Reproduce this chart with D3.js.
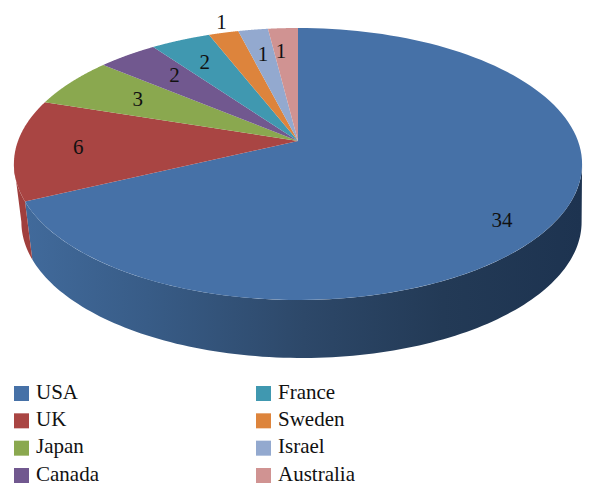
<!DOCTYPE html>
<html>
<head>
<meta charset="utf-8">
<script src="https://cdn.jsdelivr.net/npm/d3@7"></script>
<style>
html,body{margin:0;padding:0;background:#fff}
svg{display:block}
text{font-family:"Liberation Serif",serif;fill:#111}
</style>
</head>
<body>
<svg id="chart" width="595" height="497"></svg>
<script>
const countries = ["USA","UK","Japan","Canada","France","Sweden","Israel","Australia"];
const counts = [34,6,3,2,2,1,1,1];
const topColors = ["#4671a7","#a94543","#8aa84f","#71588f","#4098b0","#dd843c","#93a9cf","#d09392"];
const sideColors = ["#3f6796","#a03f3d"];
const labelRadius = [0.80,0.78,0.69,0.70,0.77,1.03,0.75,0.77];
const labelNudge = [[0,18],[0,-1],[0,0],[0,-4],[0,1],[0,-8],[0,0],[-5,0]];

const W = 595, H = 497;
const svg = d3.select("#chart").attr("viewBox", [0,0,W,H]);

// Perspective projection of the unit disc: the apex is the disc's centre.
const apex = {x:298, y:141}, persp = 0.169, scaleX = 280, scaleY = 132.1;
const project = (theta, f=1, rim=false) => {
  const u = f*Math.sin(theta), v = -f*Math.cos(theta), d = 1 - persp*v;
  if (!rim) return [apex.x + scaleX*u/d, apex.y + scaleY*v/d];
  return [apex.x + 3.5 + scaleX*0.986*u/d, apex.y + 58 + scaleY*v/d];
};
const arcPoints = (a0, a1, rim=false) =>
  d3.range(0, 121).map(i => project(a0 + (a1-a0)*i/120, 1, rim));

const pie = d3.pie().value(d => d).sort(null);
const slices = pie(counts);

// Side wall
const defs = svg.append("defs");
const grad = defs.append("linearGradient").attr("id","wallBlue")
  .attr("gradientUnits","userSpaceOnUse")
  .attr("x1",25).attr("x2",582).attr("y1",0).attr("y2",0);
[[0,"#416a9b"],[0.22,"#385c87"],[0.5,"#2d4869"],[0.75,"#233a56"],[1,"#1d3350"]]
  .forEach(([o,c]) => grad.append("stop").attr("offset",o).attr("stop-color",c));

const silhouette = Math.acos(-persp);
const line = d3.line();
const wall = (a0, a1) => line([...arcPoints(a0,a1), ...arcPoints(a0,a1,true).reverse()]) + "Z";
const usa = slices[0];
svg.append("path").attr("d", wall(silhouette, usa.endAngle)).attr("fill","url(#wallBlue)");
svg.append("path").attr("d", wall(usa.endAngle, 2*Math.PI - silhouette)).attr("fill",sideColors[1]);

// Top face
svg.append("g").selectAll("path").data(slices).join("path")
  .attr("d", d => line([[apex.x,apex.y], ...arcPoints(d.startAngle,d.endAngle)]) + "Z")
  .attr("fill", (d,i) => topColors[i]);

// Value labels
svg.append("g").selectAll("text").data(slices).join("text")
  .attr("text-anchor","middle")
  .attr("font-size",21)
  .attr("x", (d,i) => project((d.startAngle+d.endAngle)/2, labelRadius[i])[0] + labelNudge[i][0])
  .attr("y", (d,i) => project((d.startAngle+d.endAngle)/2, labelRadius[i])[1] + labelNudge[i][1] + 7)
  .text(d => d.value);

// Legend
const perCol = 4;
const colX = d3.scalePoint().domain([0,1]).range([14,256]);
const rowY = d3.scalePoint().domain(d3.range(perCol)).range([386,468]);
const legend = svg.append("g").selectAll("g").data(countries).join("g")
  .attr("transform",(d,i)=>`translate(${colX(Math.floor(i/perCol))},${rowY(i%perCol)})`);
legend.append("rect").attr("width",15).attr("height",15).attr("fill",(d,i)=>topColors[i]);
legend.append("text").attr("x",22).attr("y",12.5).attr("font-size",21).text(d=>d);
</script>
</body>
</html>
